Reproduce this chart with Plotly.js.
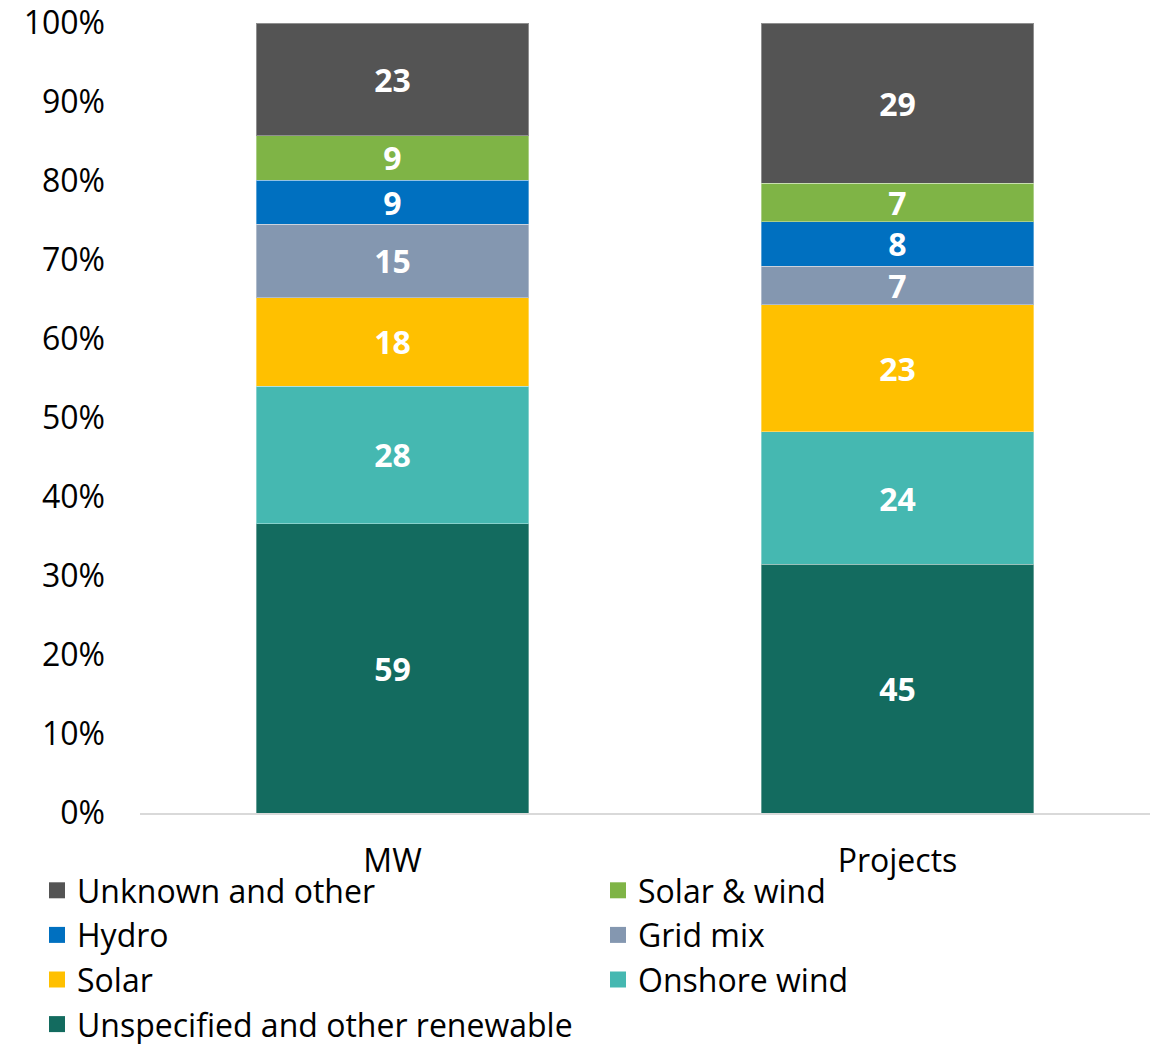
<!DOCTYPE html>
<html>
<head>
<meta charset="utf-8">
<script src="https://cdn.plot.ly/plotly-3.0.1.min.js"></script>
<style>html,body{margin:0;padding:0;background:#fff;}#chart{width:1150px;height:1044px;}</style>
</head>
<body>
<div id="chart"></div>
<script>
const categories = ["MW", "Projects"];
const seriesNames = ["Unspecified and other renewable", "Onshore wind", "Solar", "Grid mix", "Hydro", "Solar & wind", "Unknown and other"];
const unspecified = [59, 45];
const onshoreWind = [28, 24];
const solar = [18, 23];
const gridMix = [15, 7];
const hydro = [9, 8];
const solarWind = [9, 7];
const unknownOther = [23, 29];
const colors = ["#136B5F", "#45B8B1", "#FFC000", "#8497B0", "#0070C0", "#7FB446", "#545454"];
const yTickVals = [0, 10, 20, 30, 40, 50, 60, 70, 80, 90, 100];
const yTickText = ["0%", "10%", "20%", "30%", "40%", "50%", "60%", "70%", "80%", "90%", "100%"];

const FONT = "'Open Sans', Lato, sans-serif";
const seriesValues = [unspecified, onshoreWind, solar, gridMix, hydro, solarWind, unknownOther];
const traces = seriesValues.map((vals, i) => ({
  type: "bar",
  name: seriesNames[i],
  x: categories,
  y: vals,
  text: vals.map(String),
  textposition: "inside",
  insidetextanchor: "middle",
  constraintext: "none",
  textangle: 0,
  textfont: {family: FONT, size: 32, color: "#ffffff", weight: "bold"},
  marker: {color: colors[i], line: {color: "rgba(255,255,255,0.35)", width: 1}},
  showlegend: false,
  hoverinfo: "skip"
}));

// legend entries: left column and right column, as in the reference legend
const leftColumn = [6, 4, 2, 0];
const rightColumn = [5, 3, 1];
function legendEntry(i, legendId) {
  return {
    type: "scatter", mode: "markers",
    name: seriesNames[i],
    x: [null], y: [null],
    marker: {symbol: "square", size: 20, color: colors[i]},
    showlegend: true, legend: legendId, hoverinfo: "skip"
  };
}
leftColumn.forEach(i => traces.push(legendEntry(i, "legend")));
rightColumn.forEach(i => traces.push(legendEntry(i, "legend2")));

const legendCommon = {
  orientation: "h",
  traceorder: "normal",
  xref: "container", yref: "container",
  xanchor: "left",
  y: 1 - 863 / 1044, yanchor: "top",
  entrywidth: 525, entrywidthmode: "pixels",
  font: {family: FONT, size: 32, color: "#000"},
  itemwidth: 30,
  tracegroupgap: 0,
  bgcolor: "rgba(0,0,0,0)"
};

const layout = {
  width: 1150, height: 1044,
  margin: {l: 140, r: 0, t: 23, b: 231},
  barmode: "stack",
  barnorm: "percent",
  bargap: 0.46,
  paper_bgcolor: "#fff", plot_bgcolor: "#fff",
  font: {family: FONT, size: 32, color: "#000"},
  xaxis: {
    type: "category",
    showline: true, linecolor: "#d9d9d9", linewidth: 2,
    ticks: "", tickfont: {family: FONT, size: 32, color: "#000"},
    ticklabelstandoff: 19,
    showgrid: false, zeroline: false, fixedrange: true
  },
  yaxis: {
    range: [0, 100], tickvals: yTickVals, ticktext: yTickText,
    showgrid: false, zeroline: false, showline: false,
    ticks: "", ticklen: 0, tickfont: {family: FONT, size: 32, color: "#000"},
    ticklabelstandoff: 34, fixedrange: true
  },
  showlegend: true,
  legend: Object.assign({}, legendCommon, {x: 37 / 1150}),
  legend2: Object.assign({}, legendCommon, {x: 598 / 1150})
};

Plotly.newPlot("chart", traces, layout, {displayModeBar: false, staticPlot: true});
</script>
</body>
</html>
